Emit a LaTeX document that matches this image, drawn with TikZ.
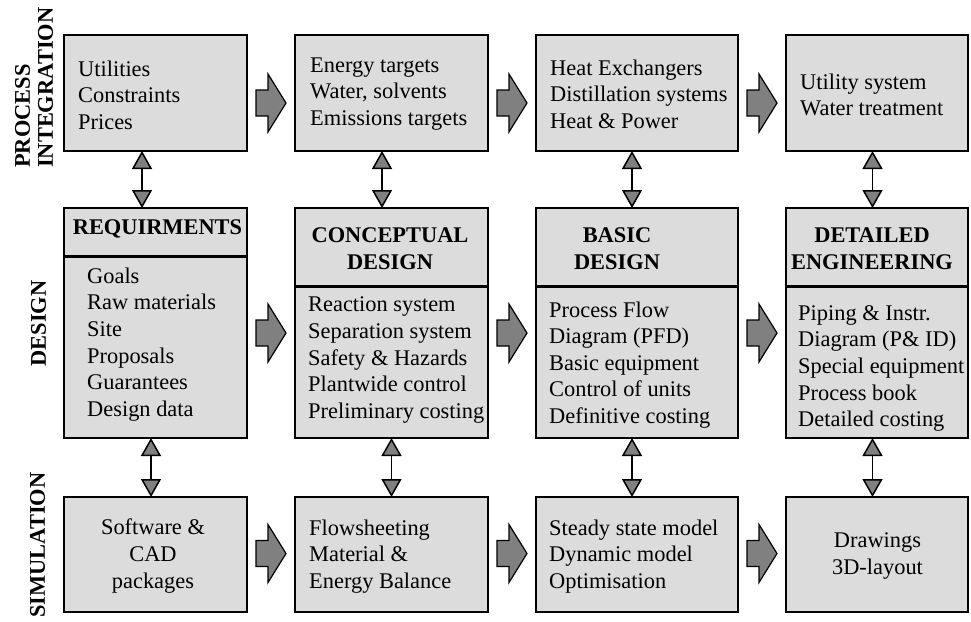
\documentclass[tikz,border=0pt]{standalone}
\usepackage{fontspec}
\setmainfont{Liberation Serif}
\usetikzlibrary{arrows.meta,calc}
\definecolor{boxgray}{RGB}{220,220,220}
\definecolor{agray}{RGB}{128,128,128}
\begin{document}
\begin{tikzpicture}[x=1pt,y=-1pt,
  box/.style={draw,line width=2pt,fill=boxgray,inner sep=0pt,outer sep=0pt},
  txt/.style={align=left,anchor=west,inner sep=0pt,font=\fontsize{22.4}{26.6}\selectfont},
  ctxt/.style={align=center,anchor=center,inner sep=0pt,font=\fontsize{22.4}{26.6}\selectfont},
  hdr/.style={align=center,anchor=center,inner sep=0pt,font=\fontsize{22.4}{27}\selectfont\bfseries},
  lbl/.style={rotate=90,align=left,inner sep=0pt,font=\fontsize{22.4}{23}\selectfont\bfseries},
  sep/.style={line width=3pt},
  dbl/.style={line width=1.5pt,{Triangle[width=20pt,length=18pt,fill=agray]}-{Triangle[width=20pt,length=18pt,fill=agray]}},
  blockarrow/.pic={\draw[fill=agray,line width=1.2pt,line join=miter]
     (-15,-13) -- (-3,-13) -- (-3,-29) -- (15,0) -- (-3,29) -- (-3,13) -- (-15,13) -- cycle;}
]
\useasboundingbox (0,0) rectangle (971,621);

% row labels
\node[lbl,anchor=west] (lpi) at (34,168) {PROCESS\\INTEGRATION};
\node[lbl,anchor=center] (ld) at (38.5,323.5) {DESIGN};
\node[lbl,anchor=center] (ls) at (37.5,545) {SIMULATION};

% top row boxes
\node[box,minimum width=183pt,minimum height=116pt] (pi1) at (155.5,93) {};
\node[box,minimum width=193pt,minimum height=116pt] (pi2) at (391.5,93) {};
\node[box,minimum width=202pt,minimum height=116pt] (pi3) at (637,93) {};
\node[box,minimum width=182pt,minimum height=116pt] (pi4) at (877,93) {};

% middle row boxes
\node[box,minimum width=183pt,minimum height=230pt] (d1) at (155.5,323) {};
\node[box,minimum width=193pt,minimum height=230pt] (d2) at (391.5,323) {};
\node[box,minimum width=202pt,minimum height=230pt] (d3) at (637,323) {};
\node[box,minimum width=182pt,minimum height=230pt] (d4) at (877,323) {};
\draw[sep] ([yshift=-48pt]d1.north west) -- ([yshift=-48pt]d1.north east);
\draw[sep] ([yshift=-78pt]d2.north west) -- ([yshift=-78pt]d2.north east);
\draw[sep] ([yshift=-78pt]d3.north west) -- ([yshift=-78pt]d3.north east);
\draw[sep] ([yshift=-78pt]d4.north west) -- ([yshift=-78pt]d4.north east);

% bottom row boxes
\node[box,minimum width=183pt,minimum height=115pt] (s1) at (155.5,554.5) {};
\node[box,minimum width=193pt,minimum height=115pt] (s2) at (391.5,554.5) {};
\node[box,minimum width=202pt,minimum height=115pt] (s3) at (637,554.5) {};
\node[box,minimum width=182pt,minimum height=115pt] (s4) at (877,554.5) {};

% top row texts
\node[txt] (pi1t) at (78,95) {Utilities\\Constraints\\Prices};
\node[txt] (pi2t) at (310,94) {Energy targets\\Water, solvents\\Emissions targets};
\node[txt] (pi3t) at (550,94) {Heat Exchangers\\Distillation systems\\Heat \& Power};
\node[txt] (pi4t) at (800,95) {Utility system\\Water treatment};

% middle row headers
\node[hdr] (d1h) at (157.5,229) {REQUIRMENTS};
\node[hdr] (d2h) at (390,248.5) {CONCEPTUAL\\DESIGN};
\node[hdr] (d3h) at (617,248.5) {BASIC\\DESIGN};
\node[hdr] (d4h) at (872,248.5) {DETAILED\\ENGINEERING};

% middle row texts
\node[txt] (d1t) at (87,344.5) {Goals\\Raw materials\\Site\\Proposals\\Guarantees\\Design data};
\node[txt] (d2t) at (308,360) {Reaction system\\Separation system\\Safety \& Hazards\\Plantwide control\\Preliminary costing};
\node[txt] (d3t) at (549,365) {Process Flow\\Diagram (PFD)\\Basic equipment\\Control of units\\Definitive costing};
\node[txt] (d4t) at (798,368.5) {Piping \& Instr.\\Diagram (P\& ID)\\Special equipment\\Process book\\Detailed costing};

% bottom row texts
\node[ctxt] (s1t) at (153,556) {Software \&\\CAD\\packages};
\node[txt] (s2t) at (309,556.5) {Flowsheeting\\Material \&\\Energy Balance};
\node[txt] (s3t) at (549,556.5) {Steady state model\\Dynamic model\\Optimisation};
\node[ctxt] (s4t) at (877.5,556) {Drawings\\3D-layout};

% block arrows between boxes
\coordinate (ma1) at ($(pi1.east)!0.5!(pi2.west)+(0,10)$);
\coordinate (ma2) at ($(pi2.east)!0.5!(pi3.west)+(0,10)$);
\coordinate (ma3) at ($(pi3.east)!0.5!(pi4.west)+(0,10)$);
\coordinate (mb1) at ($(d1.east)!0.5!(d2.west)+(0,10)$);
\coordinate (mb2) at ($(d2.east)!0.5!(d3.west)+(0,10)$);
\coordinate (mb3) at ($(d3.east)!0.5!(d4.west)+(0,10)$);
\coordinate (mc1) at ($(s1.east)!0.5!(s2.west)+(0,-1)$);
\coordinate (mc2) at ($(s2.east)!0.5!(s3.west)+(0,-1)$);
\coordinate (mc3) at ($(s3.east)!0.5!(s4.west)+(0,-1)$);
\foreach \m in {ma1,ma2,ma3,mb1,mb2,mb3,mc1,mc2,mc3}{\pic at (\m) {blockarrow};}

% double arrows between rows
\draw[dbl] ([xshift=-13.5pt]pi1.south) -- ([xshift=-13.5pt]d1.north);
\draw[dbl] ([xshift=-9.5pt]pi2.south) -- ([xshift=-9.5pt]d2.north);
\draw[dbl] ([xshift=-5pt]pi3.south) -- ([xshift=-5pt]d3.north);
\draw[dbl] ([xshift=-4.5pt]pi4.south) -- ([xshift=-4.5pt]d4.north);
\draw[dbl] ([xshift=-4.5pt]d1.south) -- ([xshift=-4.5pt]s1.north);
\draw[dbl] ([xshift=0pt]d2.south) -- ([xshift=0pt]s2.north);
\draw[dbl] ([xshift=-5pt]d3.south) -- ([xshift=-5pt]s3.north);
\draw[dbl] ([xshift=-4.5pt]d4.south) -- ([xshift=-4.5pt]s4.north);
\end{tikzpicture}
\end{document}
